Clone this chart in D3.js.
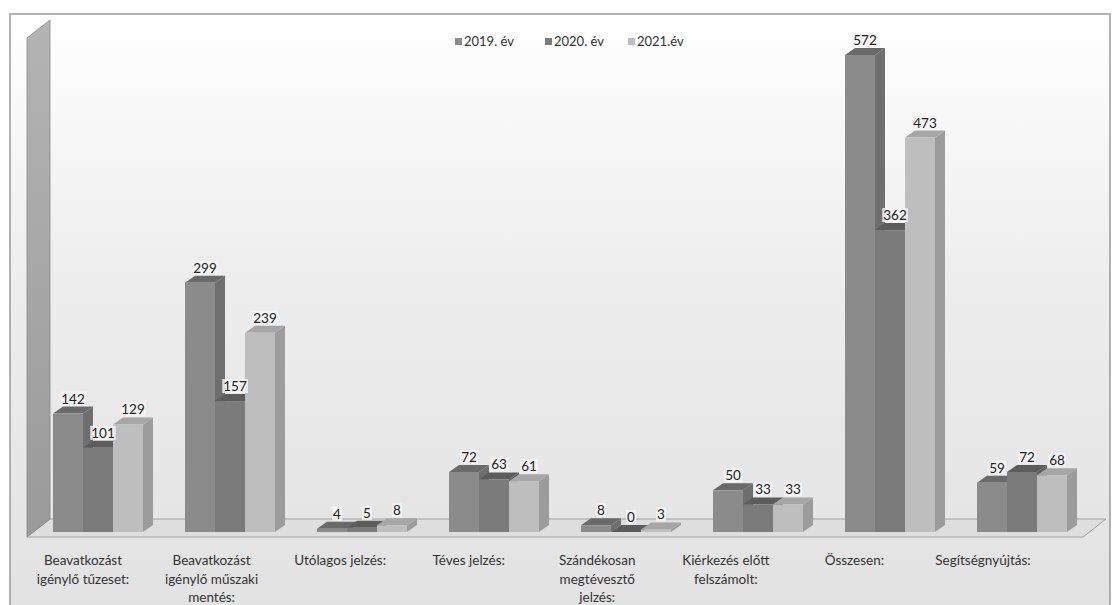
<!DOCTYPE html>
<html>
<head>
<meta charset="utf-8">
<script src="https://cdn.jsdelivr.net/npm/d3@7"></script>
<style>
  body { margin: 0; background: #fff; }
  svg { display: block; font-family: Lato, "Open Sans", sans-serif; }
</style>
</head>
<body>
<div id="chart"></div>
<script>
const categories = [
  "Beavatkozást igénylő tűzeset:",
  "Beavatkozást igénylő műszaki mentés:",
  "Utólagos jelzés:",
  "Téves jelzés:",
  "Szándékosan megtévesztő jelzés:",
  "Kiérkezés előtt felszámolt:",
  "Összesen:",
  "Segítségnyújtás:"
];
const categoryLines = [
  ["Beavatkozást", "igénylő tűzeset:"],
  ["Beavatkozást", "igénylő műszaki", "mentés:"],
  ["Utólagos jelzés:"],
  ["Téves jelzés:"],
  ["Szándékosan", "megtévesztő", "jelzés:"],
  ["Kiérkezés előtt", "felszámolt:"],
  ["Összesen:"],
  ["Segítségnyújtás:"]
];
const years = ["2019. év", "2020. év", "2021.év"];
const values2019 = [142, 299, 4, 72, 8, 50, 572, 59];
const values2020 = [101, 157, 5, 63, 0, 33, 362, 72];
const values2021 = [129, 239, 8, 61, 3, 33, 473, 68];
const series = [values2019, values2020, values2021];

const W = 1113, H = 605;
const depth = { dx: 10, dy: -7 };
const faces = [
  { front: "#8b8b8b", side: "#6f6f6f", top: "#6a6a6a" },
  { front: "#7b7b7b", side: "#5f5f5f", top: "#5c5c5c" },
  { front: "#bebebe", side: "#9c9c9c", top: "#a6a6a6" }
];

const svg = d3.select("#chart").append("svg")
  .attr("width", W).attr("height", H);

// background gradient inside frame
const defs = svg.append("defs");
const grad = defs.append("linearGradient")
  .attr("id", "bg").attr("x1", 0).attr("y1", 0).attr("x2", 0).attr("y2", 1);
grad.append("stop").attr("offset", "0%").attr("stop-color", "#ffffff");
grad.append("stop").attr("offset", "45%").attr("stop-color", "#ededed");
grad.append("stop").attr("offset", "100%").attr("stop-color", "#e2e2e2");

const wallGrad = defs.append("linearGradient")
  .attr("id", "wall").attr("x1", 0).attr("y1", 0).attr("x2", 0).attr("y2", 1);
wallGrad.append("stop").attr("offset", "0%").attr("stop-color", "#b4b4b4");
wallGrad.append("stop").attr("offset", "100%").attr("stop-color", "#9a9a9a");

svg.append("rect")
  .attr("x", 10).attr("y", 14).attr("width", 1100).attr("height", 600)
  .attr("fill", "url(#bg)").attr("stroke", "#9a9a9a").attr("stroke-width", 1.5);

// scales
const x0 = d3.scaleBand().domain(categories)
  .range([53, 53 + 132 * 8 - 42]).paddingInner(42 / 132).paddingOuter(0);
const x1 = d3.scaleBand().domain(years).range([0, x0.bandwidth()]);
const y = d3.scaleLinear().domain([0, 572]).range([532, 55]);
const labelX = d3.scalePoint().domain(categories).range([83, 983]);

// floor and left wall
const floorY = 537, floorL = 27, floorR = 1083, fdx = 23, fdy = -18;
svg.append("path")
  .attr("d", `M${floorL},${floorY}L${floorR},${floorY}L${floorR + fdx},${floorY + fdy}L${floorL + fdx},${floorY + fdy}Z`)
  .attr("fill", "#dedede").attr("stroke", "#a0a0a0").attr("stroke-width", 1);
svg.append("path")
  .attr("d", `M${floorL},${floorY}L${floorL},38L${floorL + fdx},20L${floorL + fdx},${floorY + fdy}Z`)
  .attr("fill", "url(#wall)").attr("stroke", "#888").attr("stroke-width", 0.8);

// bars
const bars = svg.append("g").attr("id", "bars");
categories.forEach((c, i) => {
  series.forEach((vals, s) => {
    const xl = x0(c) + x1(years[s]);
    const xr = xl + x1.bandwidth();
    const yt = y(vals[i]);
    const yb = y(0);
    const g = bars.append("g");
    g.append("path")
      .attr("d", `M${xr},${yb}L${xr},${yt}L${xr + depth.dx},${yt + depth.dy}L${xr + depth.dx},${yb + depth.dy}Z`)
      .attr("fill", faces[s].side);
    g.append("path")
      .attr("d", `M${xl},${yt}L${xr},${yt}L${xr + depth.dx},${yt + depth.dy}L${xl + depth.dx},${yt + depth.dy}Z`)
      .attr("fill", faces[s].top);
    g.append("rect")
      .attr("x", xl).attr("y", yt)
      .attr("width", x1.bandwidth()).attr("height", yb - yt)
      .attr("fill", faces[s].front);
  });
});

// value labels
const labels = svg.append("g").attr("id", "value-labels")
  .attr("font-size", 13.5).attr("fill", "#222").attr("text-anchor", "middle");
categories.forEach((c, i) => {
  series.forEach((vals, s) => {
    const cx = x0(c) + x1(years[s]) + x1.bandwidth() / 2 + depth.dx / 2;
    const by = y(vals[i]) - 10;
    const t = labels.append("text").attr("x", cx).attr("y", by).text(vals[i]);
    const bb = t.node().getBBox();
    labels.insert("rect", () => t.node())
      .attr("x", bb.x - 1).attr("y", bb.y + 1)
      .attr("width", bb.width + 2).attr("height", bb.height - 2)
      .attr("fill", "#f4f4f4").attr("opacity", 0.85);
  });
});

// category labels
const catG = svg.append("g").attr("font-size", 13.5).attr("fill", "#333")
  .attr("text-anchor", "middle");
categories.forEach((c, i) => {
  const t = catG.append("text").attr("x", labelX(c)).attr("y", 565);
  categoryLines[i].forEach((line, k) => {
    t.append("tspan").attr("x", labelX(c)).attr("dy", k === 0 ? 0 : 18.5).text(line);
  });
});

// legend
const legendX = [455, 545, 628];
const legend = svg.append("g").attr("font-size", 13).attr("fill", "#333");
years.forEach((yr, s) => {
  legend.append("rect").attr("x", legendX[s]).attr("y", 38)
    .attr("width", 7).attr("height", 7).attr("fill", faces[s].front);
  legend.append("text").attr("x", legendX[s] + 9).attr("y", 46).text(yr);
});
</script>
</body>
</html>
